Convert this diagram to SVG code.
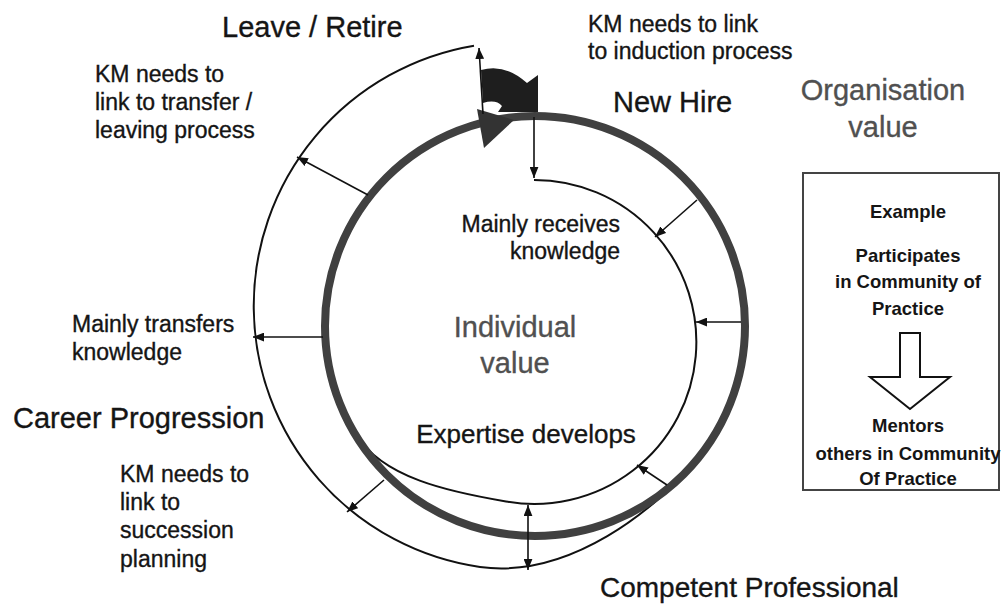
<svg xmlns="http://www.w3.org/2000/svg" width="1001" height="606" viewBox="0 0 1001 606">
  <style>
    .t { font-family: "Liberation Sans", Arial, sans-serif; fill: #151515; stroke: #151515; stroke-width: 0.35px; }
    .big { font-size: 29px; }
    .mid { font-size: 23px; }
    .exp { font-size: 26px; }
    .grey { fill: #505050; stroke: #505050; }
    .box { font-size: 18.5px; font-weight: bold; text-anchor: middle; stroke-width: 0; }
    .thin { fill: none; stroke: #111; stroke-width: 2; }
    .conn { fill: none; stroke: #111; stroke-width: 1.6; marker-end: url(#ah); }
  </style>
  <defs>
    <marker id="ah" viewBox="0 0 10 8" refX="10" refY="4" markerWidth="11" markerHeight="9" markerUnits="userSpaceOnUse" orient="auto-start-reverse">
      <path d="M0,0 L10,4 L0,8 Z" fill="#111"/>
    </marker>
  </defs>
  <rect width="1001" height="606" fill="#ffffff"/>

  <!-- career spiral: inner (new hire) and outer (later career) paths -->
  <g id="spiral">
    <path id="inner-path" class="thin" d="M534,180 A162,162 0 1 1 506,501.5 C450,492 382,478 356,434"/>
    <path id="outer-path" class="thin" d="M474,45.7 A263.8,263.8 0 0 0 480,567 C569,579 657,510 700.5,455"/>
    <!-- individual value ring -->
    <circle id="value-ring" cx="535" cy="326" r="210" fill="none" stroke="#404040" stroke-width="8"/>
    <polygon id="ring-head" points="477,109 484,148 514,120" fill="#333"/>
    <path id="curved-arrow" d="M481,70 Q505,63 527,83 L538,75 L538,112 L498,112 L502,106 Q496,99 483,103 Z" fill="#1e1e1e"/>
  </g>

  <g id="connectors">
    <line class="conn" x1="483" y1="114" x2="479" y2="48"/>
    <line class="conn" x1="534" y1="117" x2="534" y2="178"/>
    <line class="conn" x1="697" y1="200" x2="655" y2="237"/>
    <line class="conn" x1="741" y1="322" x2="696" y2="322"/>
    <line class="conn" x1="667" y1="485" x2="637" y2="465"/>
    <line class="conn" x1="528" y1="505" x2="528" y2="570" marker-start="url(#ah)"/>
    <line class="conn" x1="384" y1="480" x2="347" y2="512"/>
    <line class="conn" x1="323" y1="337" x2="253" y2="337"/>
    <line class="conn" x1="368" y1="195" x2="297" y2="157"/>
  </g>

  <g id="leave-retire"><text class="t big" x="222" y="37">Leave / Retire</text></g>
  <g id="new-hire"><text class="t big" x="613" y="112">New Hire</text></g>
  <g id="career-progression"><text class="t big" x="13" y="428">Career Progression</text></g>
  <g id="competent-professional"><text class="t big" x="600" y="597" style="font-size:28px">Competent Professional</text></g>

  <g id="organisation-value">
    <text class="t big grey" text-anchor="middle" x="883" y="100">Organisation</text>
    <text class="t big grey" text-anchor="middle" x="883" y="137">value</text>
  </g>
  <g id="individual-value">
    <text class="t big grey" text-anchor="middle" x="515" y="337">Individual</text>
    <text class="t big grey" text-anchor="middle" x="515" y="373">value</text>
  </g>
  <g id="expertise-develops"><text class="t exp" text-anchor="middle" x="526" y="443">Expertise develops</text></g>

  <g id="induction-note">
    <text class="t mid" x="588" y="32">KM needs to link</text>
    <text class="t mid" x="588" y="59">to induction process</text>
  </g>
  <g id="leaving-note">
    <text class="t mid" x="95" y="82">KM needs to</text>
    <text class="t mid" x="95" y="110">link to transfer /</text>
    <text class="t mid" x="95" y="138">leaving process</text>
  </g>
  <g id="receives-note">
    <text class="t mid" text-anchor="end" x="620" y="232">Mainly receives</text>
    <text class="t mid" text-anchor="end" x="620" y="259">knowledge</text>
  </g>
  <g id="transfers-note">
    <text class="t mid" x="72" y="332">Mainly transfers</text>
    <text class="t mid" x="72" y="360">knowledge</text>
  </g>
  <g id="succession-note">
    <text class="t mid" x="120" y="482">KM needs to</text>
    <text class="t mid" x="120" y="510">link to</text>
    <text class="t mid" x="120" y="538">succession</text>
    <text class="t mid" x="120" y="567">planning</text>
  </g>

  <g id="example-box">
    <rect x="803" y="173" width="196" height="317" fill="none" stroke="#444" stroke-width="2"/>
    <text class="t box" x="908" y="218">Example</text>
    <text class="t box" x="908" y="262">Participates</text>
    <text class="t box" x="908" y="288">in Community of</text>
    <text class="t box" x="908" y="315">Practice</text>
    <path d="M900,333 L920,333 L920,377 L950,377 L910,409 L870,377 L900,377 Z" fill="#fff" stroke="#111" stroke-width="2" stroke-linejoin="miter"/>
    <text class="t box" x="908" y="432">Mentors</text>
    <text class="t box" x="908" y="460">others in Community</text>
    <text class="t box" x="908" y="485">Of Practice</text>
  </g>
</svg>
